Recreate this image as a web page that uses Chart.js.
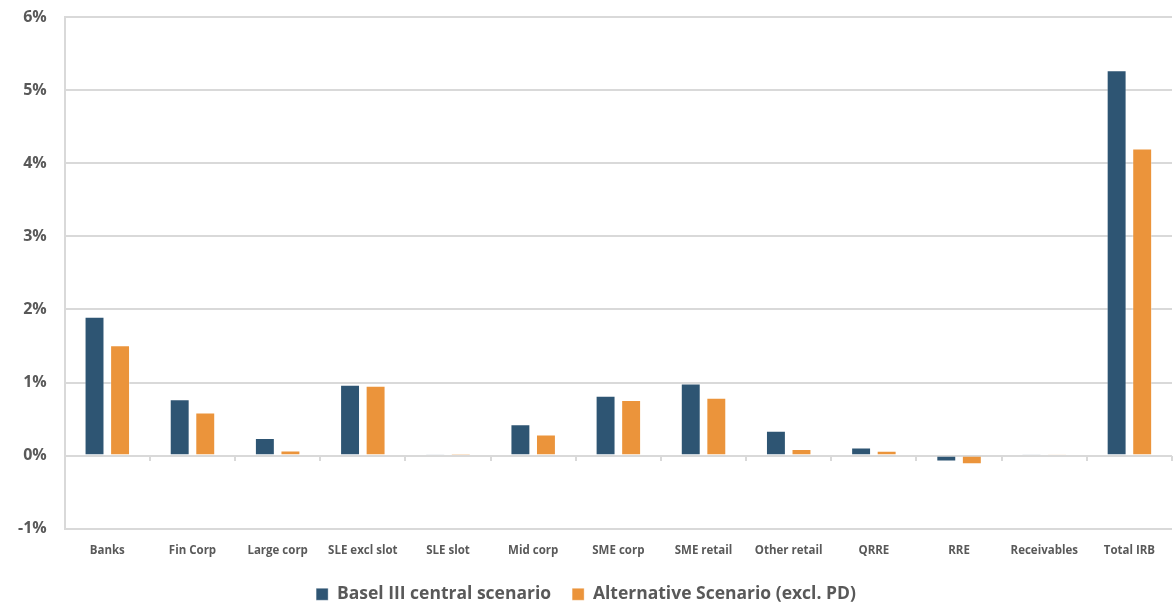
<!DOCTYPE html>
<html>
    <head>
        <script src="https://cdn.jsdelivr.net/npm/chart.js@4"></script>
        <style>
            body { margin: 0; background: #fff; }
        </style>
    </head>
    <body>
        <div>
            <canvas id="myChart" width="1176" height="606"></canvas>
        </div>

        <script>
            // DATA
            const categories = ['Banks', 'Fin Corp', 'Large corp', 'SLE excl slot', 'SLE slot', 'Mid corp',
                'SME corp', 'SME retail', 'Other retail', 'QRRE', 'RRE', 'Receivables', 'Total IRB'];
            const basel = [1.90, 0.77, 0.24, 0.97, 0.01, 0.43, 0.82, 0.985, 0.34, 0.11, -0.08, 0.02, 5.27];
            const alternative = [1.51, 0.59, 0.07, 0.955, 0.005, 0.29, 0.76, 0.79, 0.09, 0.065, -0.12, 0.01, 4.20];

            const grey = '#595959';
            const gridGrey = '#d9d9d9';
            const fontFamily = '"Open Sans", sans-serif';

            // SETUP
            const data = {
                labels: categories,
                datasets: [{
                    label: 'Basel III central scenario',
                    data: basel,
                    backgroundColor: '#2e5573',
                    borderColor: 'rgba(255,255,255,0.35)',
                    borderWidth: 1
                },{
                    label: 'Alternative Scenario (excl. PD)',
                    data: alternative,
                    backgroundColor: '#eb943b',
                    borderColor: 'rgba(255,255,255,0.35)',
                    borderWidth: 1
                }]
            };

            // CONFIG
            const config = {
                type: 'bar',
                data,
                options: {
                    responsive: false,
                    animation: false,
                    layout: { padding: { top: 17, right: 4, left: 0, bottom: -7 } },
                    datasets: {
                        bar: { categoryPercentage: 0.6, barPercentage: 0.78 }
                    },
                    plugins: {
                        tooltip: { enabled: false },
                        legend: {
                            position: 'bottom',
                            labels: {
                                boxWidth: 12,
                                boxHeight: 12,
                                padding: 21,
                                color: grey,
                                font: { family: fontFamily, size: 17.5, weight: 'bold' }
                            }
                        }
                    },
                    scales: {
                        x: {
                            position: { y: 0 },
                            offset: true,
                            ticks: { display: false },
                            border: { display: false },
                            grid: {
                                offset: true,
                                drawOnChartArea: false,
                                drawTicks: true,
                                tickLength: 5,
                                color: gridGrey,
                                lineWidth: 2
                            }
                        },
                        x2: {
                            type: 'category',
                            position: 'bottom',
                            offset: true,
                            border: { display: false },
                            grid: { display: false },
                            ticks: {
                                color: grey,
                                maxRotation: 0,
                                autoSkip: false,
                                padding: 7,
                                font: { family: fontFamily, size: 11.5, weight: 'bold' }
                            }
                        },
                        y: {
                            min: -1,
                            max: 6,
                            border: { display: true, color: gridGrey, width: 2 },
                            grid: { color: gridGrey, lineWidth: 2, drawTicks: false },
                            afterFit: scale => {
                                // let the top label overhang, like the original
                                scale.paddingTop = 0;
                                scale.paddingBottom = 0;
                            },
                            ticks: {
                                stepSize: 1,
                                padding: 18,
                                color: grey,
                                font: { family: fontFamily, size: 16, weight: 'bold' },
                                callback: v => v + '%'
                            }
                        }
                    }
                }
            };

            // RENDER
            const myChart = new Chart(
                document.getElementById('myChart'),
                config
                );
        </script>
    </body>
</html>
